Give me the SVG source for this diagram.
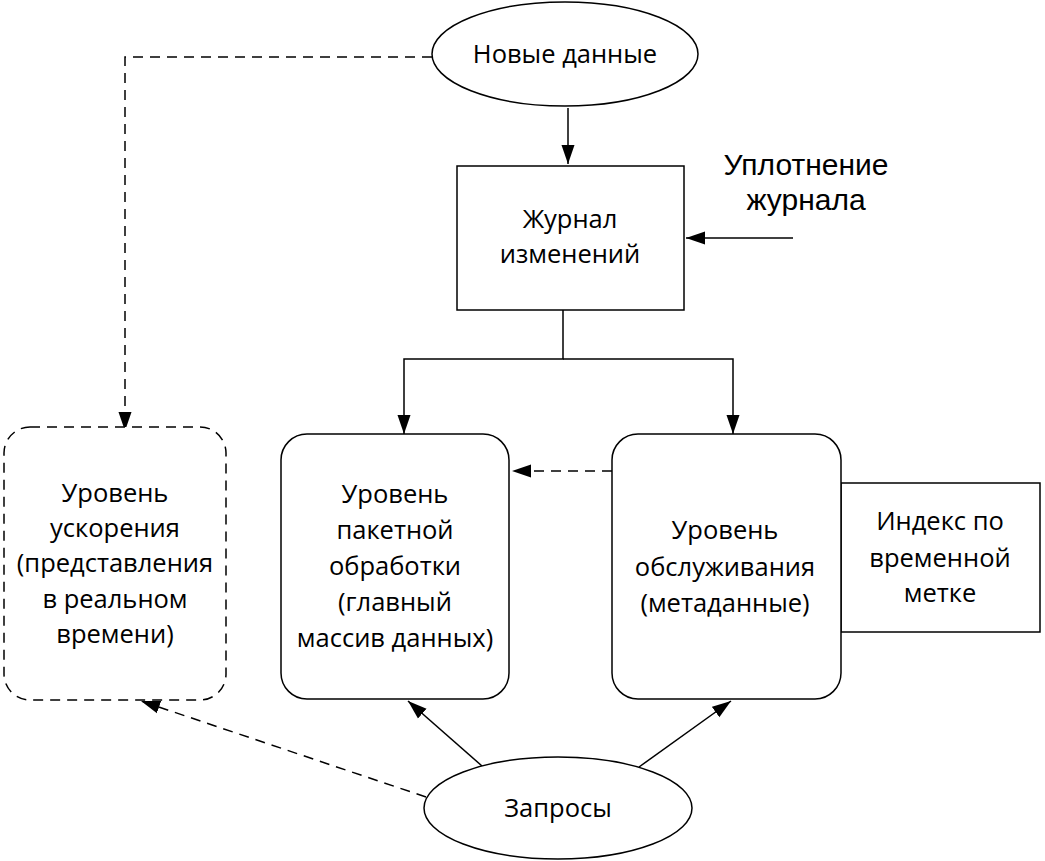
<svg xmlns="http://www.w3.org/2000/svg" width="1045" height="861" viewBox="0 0 1045 861">
<defs>
<style>
.s{fill:none;stroke:#000;stroke-width:1.5}
.n{fill:#fff;stroke:#000;stroke-width:1.5}
.d{stroke-dasharray:10 7}
.t{font-family:"Open Sans","Noto Sans",sans-serif;font-size:25.5px;fill:#000;text-anchor:middle}
.a{font-family:"Liberation Sans",Arial,sans-serif;font-size:30px;fill:#000;text-anchor:middle}
</style>
<marker id="ah" markerUnits="userSpaceOnUse" markerWidth="20" markerHeight="14" refX="19" refY="7" orient="auto">
<path d="M0,0.5 L19,7 L0,13.5 Z" fill="#000"/>
</marker>
</defs>
<g id="connectors">
<path class="s d" d="M432,57 H125 V431" marker-end="url(#ah)"/>
<path class="s" d="M568,108 V164" marker-end="url(#ah)"/>
<path class="s" d="M793,238 H686" marker-end="url(#ah)"/>
<path class="s" d="M563,310 V359 H404 V434" marker-end="url(#ah)"/>
<path class="s" d="M563,359 H733 V434" marker-end="url(#ah)"/>
<path class="s d" d="M612,471 H512" marker-end="url(#ah)"/>
<path class="s" d="M482,766 L408,701" marker-end="url(#ah)"/>
<path class="s" d="M639,767 L731,701" marker-end="url(#ah)"/>
<path class="s d" d="M426,797 L141,701" marker-end="url(#ah)"/>
</g>
<g id="new-data">
<ellipse class="n" cx="565" cy="54" rx="133" ry="52"/>
<text class="t" x="565" y="63">Новые данные</text>
</g>
<g id="journal">
<rect class="n" x="457" y="166" width="227" height="144"/>
<text class="t" x="570" y="228">Журнал</text>
<text class="t" x="570" y="263">изменений</text>
</g>
<g id="compaction">
<text class="a" x="806" y="175">Уплотнение</text>
<text class="a" x="806" y="210">журнала</text>
</g>
<g id="speed-layer">
<rect class="n d" x="4" y="427" width="222" height="273" rx="26"/>
<text class="t" x="115" y="502">Уровень</text>
<text class="t" x="115" y="537">ускорения</text>
<text class="t" x="115" y="572">(представления</text>
<text class="t" x="115" y="608">в реальном</text>
<text class="t" x="115" y="643">времени)</text>
</g>
<g id="batch-layer">
<rect class="n" x="281" y="434" width="228" height="265" rx="26"/>
<text class="t" x="395" y="503">Уровень</text>
<text class="t" x="395" y="539">пакетной</text>
<text class="t" x="395" y="575">обработки</text>
<text class="t" x="395" y="611">(главный</text>
<text class="t" x="395" y="647">массив данных)</text>
</g>
<g id="index">
<rect class="n" x="841" y="483" width="199" height="149"/>
<text class="t" x="940" y="530">Индекс по</text>
<text class="t" x="940" y="567">временной</text>
<text class="t" x="940" y="602">метке</text>
</g>
<g id="serving-layer">
<rect class="n" x="612" y="434" width="229" height="265" rx="26"/>
<text class="t" x="725" y="539">Уровень</text>
<text class="t" x="725" y="576">обслуживания</text>
<text class="t" x="725" y="612">(метаданные)</text>
</g>
<g id="queries">
<ellipse class="n" cx="558" cy="808" rx="134" ry="51"/>
<text class="t" x="558" y="817">Запросы</text>
</g>
</svg>
